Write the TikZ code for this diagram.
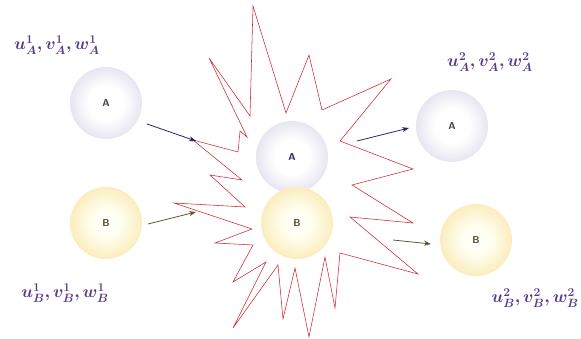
\documentclass[tikz,border=0pt]{standalone}
\usepackage{amsmath}
\usepackage{bm}
\usepackage{xcolor}
\usetikzlibrary{arrows.meta}
\definecolor{Lavender}{RGB}{186,181,215}
\definecolor{Golden}{RGB}{242,207,106}
\definecolor{Navy}{RGB}{40,36,100}
\definecolor{Olive}{RGB}{100,84,44}
\definecolor{Burst}{RGB}{204,40,52}
\definecolor{Velo}{RGB}{88,58,140}
\pgfdeclareradialshading{ballA}{\pgfpoint{0bp}{0bp}}{color(0bp)=(white); color(12bp)=(white); color(50bp)=(Lavender)}
\pgfdeclareradialshading{ballB}{\pgfpoint{0bp}{0bp}}{color(0bp)=(white); color(10bp)=(yellow!6); color(50bp)=(Golden)}

\begin{document}
\begin{tikzpicture}[x=1pt, y=-1pt,
	ballA/.style={circle, minimum size=72pt, inner sep=0pt, shading=ballA, font=\sffamily\bfseries\fontsize{10}{12}\selectfont, text=black!75},
	ballB/.style={circle, minimum size=72pt, inner sep=0pt, shading=ballB, font=\sffamily\bfseries\fontsize{10}{12}\selectfont, text=Olive!80!black},
	velo/.style={text=Velo, font=\fontsize{18}{21}\selectfont},
	moveA/.style={-{Stealth[length=7pt, width=5pt]}, Navy, thick},
	moveB/.style={-{Stealth[length=7pt, width=5pt]}, Olive, thick}]
	\useasboundingbox (0,0) rectangle (581,339);
	% collision burst
	\draw[Burst, line width=0.55pt, line join=miter]
		(253,6) -- (250,116) -- (209,58) -- (247,137) -- (240,131) -- (238,152)
		-- (193,140) -- (242,180) -- (210,175) -- (245,207) -- (174,203) -- (252,229)
		-- (215,243) -- (253,245) -- (233,282) -- (266,262) -- (233,328) -- (278,265)
		-- (283,319) -- (295,268) -- (309,337) -- (325,257) -- (335,308) -- (340,253)
		-- (418,274) -- (350,217) -- (413,223) -- (352,185) -- (413,169) -- (340,141)
		-- (391,79) -- (322,110) -- (309,55) -- (286,113) -- cycle;
	% balls
	\node[ballA] (A1) at (106,103) {A};
	\node[ballB] (B1) at (106,223) {B};
	\node[ballA, text=Navy] (A0) at (292,157) {A};
	\node[ballB] (B0) at (297,223) {B};
	\node[ballA] (A2) at (452,126) {A};
	\node[ballB] (B2) at (476,240) {B};
	% velocities
	\node[velo] (vA1) at (57,45) {$\bm{u_A^1, v_A^1, w_A^1}$};
	\node[velo] (vA2) at (490,62) {$\bm{u_A^2, v_A^2, w_A^2}$};
	\node[velo] (vB1) at (65,293) {$\bm{u_B^1, v_B^1, w_B^1}$};
	\node[velo, anchor=west] (vB2) at (488,298) {$\bm{u_B^2, v_B^2, w_B^2}$};
	% motion arrows
	\coordinate (a1s) at (147,124);
	\coordinate (a1e) at (196,141);
	\coordinate (b1s) at (148,224);
	\coordinate (b1e) at (196,212);
	\coordinate (a2s) at (357,141);
	\coordinate (a2e) at (409,128);
	\coordinate (b2s) at (393,240);
	\coordinate (b2e) at (431,244);
	\draw[moveA] (a1s) -- (a1e);
	\draw[moveB] (b1s) -- (b1e);
	\draw[moveA] (a2s) -- (a2e);
	\draw[moveB] (b2s) -- (b2e);
\end{tikzpicture}
\end{document}
